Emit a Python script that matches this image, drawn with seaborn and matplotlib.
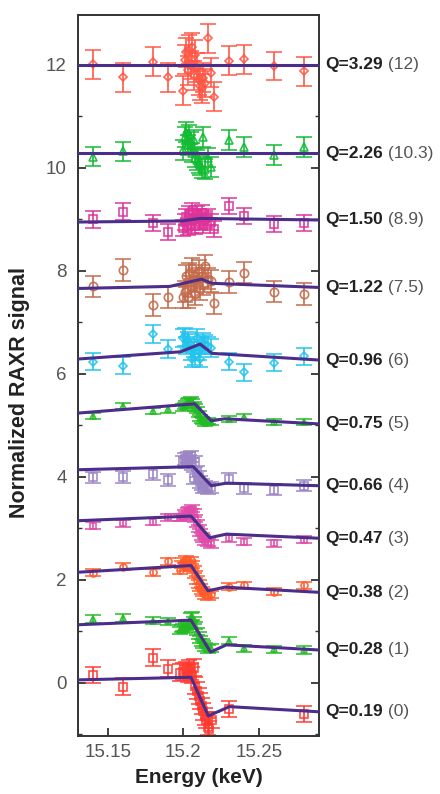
import numpy as np
import pandas as pd
import matplotlib
matplotlib.use("Agg")
import matplotlib.pyplot as plt
import seaborn as sns
from matplotlib.ticker import MultipleLocator

# ---------------- data ----------------
Q_LABELS = ["0.19", "0.28", "0.38", "0.47", "0.66", "0.75", "0.96", "1.22", "1.50", "2.26", "3.29"]
OFFSETS = ["0", "1", "2", "3", "4", "5", "6", "7.5", "8.9", "10.3", "12"]

E_LEFT = [15.14, 15.16, 15.18, 15.19]
E_DENSE = [15.200, 15.201, 15.202, 15.203, 15.204, 15.205, 15.206, 15.207, 15.208,
           15.209, 15.210, 15.211, 15.212, 15.213, 15.214, 15.216, 15.218]
E_RIGHT = [15.23, 15.24, 15.26, 15.28]

E0 = [15.14, 15.16, 15.18, 15.19, 15.198, 15.200, 15.202, 15.203, 15.204, 15.205, 15.206, 15.207,
      15.208, 15.209, 15.210, 15.211, 15.212, 15.213, 15.214, 15.215, 15.216, 15.217, 15.219,
      15.23, 15.28]
Y0 = [0.15, -0.07, 0.49, 0.28, 0.20, 0.22, 0.25, 0.18, 0.28, 0.22, 0.15, 0.30,
      -0.05, -0.15, -0.25, -0.35, -0.45, -0.55, -0.65, -0.72, -0.85, -0.90, -0.72,
      -0.51, -0.60]
E1 = E_LEFT + [15.198, 15.199] + E_DENSE + E_RIGHT
Y1 = [1.24, 1.26, 1.21, 1.20, 1.02, 1.05,
      1.08, 1.04, 1.10, 1.12, 1.15, 1.28, 1.30, 1.22, 1.12, 1.00, 0.92, 0.85, 0.78, 0.74, 0.70, 0.66, 0.68,
      0.82, 0.67, 0.65, 0.64]
E2 = E_LEFT + [15.198, 15.199] + E_DENSE + E_RIGHT
Y2 = [2.14, 2.26, 2.15, 2.36, 2.19, 2.30,
      2.35, 2.25, 2.40, 2.32, 2.28, 2.38, 2.30, 2.20, 2.10, 2.00, 1.92, 1.85, 1.80, 1.75, 1.70, 1.68, 1.72,
      1.87, 1.90, 1.77, 1.90]
E3 = E_LEFT + [15.198] + E_DENSE + E_RIGHT
Y3 = [3.05, 3.10, 3.13, 3.22, 3.22,
      3.22, 3.28, 3.25, 3.32, 3.35, 3.30, 3.38, 3.30, 3.20, 3.10, 3.00, 2.92, 2.85, 2.80, 2.75, 2.72, 2.70,
      2.81, 2.74, 2.71, 2.78]
E4 = E_LEFT + E_DENSE + E_RIGHT
Y4 = [3.99, 4.00, 4.06, 3.94,
      4.30, 4.35, 4.28, 4.38, 4.32, 4.40, 4.25, 3.98, 4.30, 4.10, 4.00, 3.90, 3.85, 3.80, 3.82, 3.78, 3.80,
      3.97, 3.78, 3.75, 3.83]
E5 = E_LEFT + E_DENSE + E_RIGHT
Y5 = [5.18, 5.37, 5.28, 5.31,
      5.35, 5.38, 5.42, 5.45, 5.48, 5.50, 5.45, 5.40, 5.35, 5.30, 5.22, 5.15, 5.10, 5.08, 5.05, 5.08, 5.06,
      5.13, 5.17, 5.07, 5.07]
E6 = E_LEFT + E_DENSE + E_RIGHT
Y6 = [6.24, 6.16, 6.78, 6.48,
      6.70, 6.72, 6.55, 6.65, 6.60, 6.45, 6.30, 6.50, 6.35, 6.70, 6.45, 6.30, 6.55, 6.62, 6.58, 6.55, 6.50,
      6.24, 6.03, 6.22, 6.34]
E7 = E_LEFT + E_DENSE + [15.22] + E_RIGHT
Y7 = [7.70, 8.02, 7.34, 7.49,
      7.50, 7.60, 7.90, 7.50, 7.95, 7.70, 8.05, 7.80, 7.55, 7.85, 8.00, 7.65, 7.90, 7.75, 8.10, 7.85, 7.80,
      7.37, 7.79, 7.97, 7.60, 7.55]
E8 = E_LEFT + E_DENSE + [15.22] + E_RIGHT
Y8 = [9.00, 9.15, 8.93, 8.76,
      8.83, 8.95, 9.05, 8.85, 9.10, 8.90, 9.15, 9.00, 8.88, 9.10, 9.05, 8.95, 9.12, 8.90, 9.00, 9.05, 8.95,
      8.81, 9.26, 9.07, 8.91, 8.93]
E9 = [15.14, 15.16] + E_DENSE + E_RIGHT
Y9 = [10.22, 10.32,
      10.35, 10.60, 10.70, 10.45, 10.65, 10.50, 10.30, 10.55, 10.20, 10.15, 10.10, 10.05, 10.00, 10.60, 9.98, 10.20, 10.02,
      10.54, 10.41, 10.25, 10.41]
E10 = E_LEFT + E_DENSE + [15.22] + E_RIGHT
Y10 = [12.01, 11.76, 12.06, 11.76,
       11.50, 12.10, 12.25, 11.90, 12.30, 12.00, 12.35, 11.80, 12.20, 11.95, 11.70, 11.60, 11.55, 11.75, 11.65, 12.52, 11.85,
       11.38, 12.08, 12.11, 11.98, 11.88]

ERR = [0.16, 0.07, 0.07, 0.07, 0.11, 0.06, 0.17, 0.21, 0.16, 0.19, 0.28]

# fit curves: (energy, value) knots
FIT_E = [
    [15.13, 15.205, 15.2165, 15.2305, 15.29],
    [15.13, 15.205, 15.218, 15.2285, 15.29],
    [15.13, 15.205, 15.2163, 15.2275, 15.29],
    [15.13, 15.205, 15.2175, 15.2285, 15.29],
    [15.13, 15.2065, 15.2185, 15.2285, 15.29],
    [15.13, 15.2075, 15.2185, 15.2275, 15.29],
    [15.13, 15.198, 15.211, 15.219, 15.29],
    [15.13, 15.191, 15.212, 15.219, 15.29],
    [15.13, 15.199, 15.211, 15.29],
    [15.13, 15.29],
    [15.13, 15.29],
]
FIT_Y = [
    [0.06, 0.11, -0.64, -0.46, -0.56],
    [1.13, 1.22, 0.60, 0.74, 0.64],
    [2.15, 2.28, 1.79, 1.86, 1.76],
    [3.15, 3.24, 2.82, 2.89, 2.81],
    [4.14, 4.20, 3.83, 3.88, 3.83],
    [5.24, 5.42, 5.09, 5.13, 5.03],
    [6.29, 6.43, 6.58, 6.40, 6.27],
    [7.66, 7.70, 7.84, 7.76, 7.68],
    [8.95, 8.97, 9.02, 8.99],
    [10.29, 10.29],
    [12.00, 12.00],
]

ENERGIES = [E0, E1, E2, E3, E4, E5, E6, E7, E8, E9, E10]
SIGNALS = [Y0, Y1, Y2, Y3, Y4, Y5, Y6, Y7, Y8, Y9, Y10]

COLORS = ["#ff3a30", "#22bb22", "#ff5a2a", "#e04aa8", "#9b85c4", "#22bb22",
          "#22c4ee", "#c46a4a", "#dd3399", "#11bb33", "#ff5544"]
MARKERS = ["s", "^", "o", "s", "s", "^", "D", "o", "s", "^", "D"]
MSIZES = [6, 5, 5, 5, 6, 4.5, 4.5, 6, 6, 5.5, 4.5]

# ---------------- plot ----------------
sns.set_theme(style="ticks")
plt.rcParams["font.family"] = ["Liberation Sans", "DejaVu Sans"]

fig = plt.figure(figsize=(4.40, 7.94), dpi=100)
ax = fig.add_axes([78 / 440, 1 - 736 / 794, (319 - 78) / 440, (736 - 15) / 794])

for i in range(len(Q_LABELS)):
    ax.errorbar(ENERGIES[i], SIGNALS[i], yerr=ERR[i], fmt=MARKERS[i], color=COLORS[i],
                mfc="none", mec=COLORS[i], ms=MSIZES[i], mew=1.2, elinewidth=1.3,
                capsize=6, capthick=1.3, zorder=2, alpha=0.9)

fit_df = pd.concat([
    pd.DataFrame({"E": FIT_E[i], "S": FIT_Y[i], "Q": Q_LABELS[i]}) for i in range(len(Q_LABELS))
])
sns.lineplot(data=fit_df, x="E", y="S", units="Q", estimator=None, sort=False,
             color="#4b2d8c", lw=2.2, ax=ax, zorder=4)

ax.set_xlim(15.13, 15.29)
ax.set_ylim(-1.03, 12.97)
ax.set_xticks([15.15, 15.2, 15.25])
ax.set_xticklabels(["15.15", "15.2", "15.25"])
ax.set_yticks([0, 2, 4, 6, 8, 10, 12])
ax.yaxis.set_minor_locator(MultipleLocator(1))
ax.tick_params(axis="both", which="major", direction="in", length=6, width=1.3,
               labelsize=13.5, labelcolor="#555555", color="#333333")
ax.tick_params(axis="x", pad=6)
ax.tick_params(axis="y", pad=8, right=True)
ax.tick_params(axis="y", which="minor", direction="in", length=3, width=1.0, right=True, color="#333333")
for s in ax.spines.values():
    s.set_linewidth(1.4)
    s.set_color("#333333")

ax.set_xlabel("Energy (keV)", fontsize=15, fontweight="bold", color="#222222")
ax.set_ylabel("Normalized RAXR signal", fontsize=15.5, fontweight="bold", color="#222222")
ax.xaxis.set_label_coords(0.5, -0.045)
ax.yaxis.set_label_coords(-0.2, 0.477)

for i in range(len(Q_LABELS)):
    yv = FIT_Y[i][-1]
    t1 = ax.text(1.025, yv, f"Q={Q_LABELS[i]}", transform=ax.get_yaxis_transform(),
                 fontsize=12.5, fontweight="bold", color="#222222", va="center", ha="left")
    ax.annotate(f" ({OFFSETS[i]})", xy=(1, 0.5), xycoords=t1, va="center", ha="left",
                fontsize=12.5, color="#555555")

fig.savefig("out.png", dpi=100)
